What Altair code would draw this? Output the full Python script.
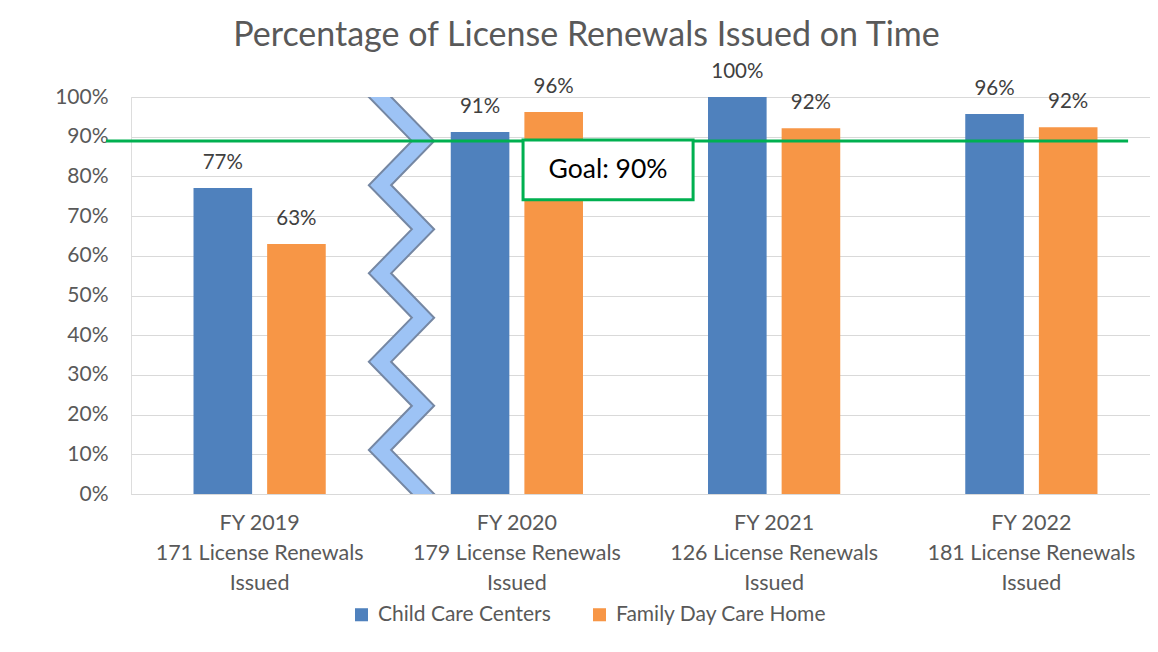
import altair as alt
import pandas as pd

FONT = "Lato"

# ---- data ----
years = [
    "FY 2019|171 License Renewals|Issued",
    "FY 2020|179 License Renewals|Issued",
    "FY 2021|126 License Renewals|Issued",
    "FY 2022|181 License Renewals|Issued",
]
series = ["Child Care Centers", "Family Day Care Home"]
child_care = [0.771, 0.912, 1.0, 0.957]
family_home = [0.63, 0.962, 0.921, 0.924]
colors = ["#4F81BD", "#F79646"]
y_ticks = [0, 0.1, 0.2, 0.3, 0.4, 0.5, 0.6, 0.7, 0.8, 0.9, 1.0]

# goal annotation (x in group units 0..4)
goal_value = 0.889
goal_line_x = [-0.097, 3.876]
goal_box_x = [1.524, 2.185]
goal_box_y = [0.741, 0.892]
goal_label = "Goal: 90%"

# axis-break zigzag between FY 2019 and FY 2020 (x in group units)
zig_x = [1.135, 0.968, 1.135, 0.968, 1.135, 0.968, 1.135, 0.968, 1.135, 0.968, 1.135, 0.968]
zig_y = [1.111, 1.0, 0.889, 0.778, 0.667, 0.556, 0.444, 0.333, 0.222, 0.111, 0.0, -0.111]

# ---- tables ----
bars = pd.DataFrame({
    "year": years * 2,
    "series": [s for s in series for _ in years],
    "value": child_care + family_home,
})
zig = pd.DataFrame({"i": list(range(len(zig_x))), "zx": zig_x, "zy": zig_y})
goal_line = pd.DataFrame({"x1": [goal_line_x[0]], "x2": [goal_line_x[1]], "y": [goal_value]})
goal_box = pd.DataFrame({
    "x1": [goal_box_x[0]], "x2": [goal_box_x[1]],
    "y1": [goal_box_y[0]], "y2": [goal_box_y[1]],
    "xc": [(goal_box_x[0] + goal_box_x[1]) / 2],
    "yc": [(goal_box_y[0] + goal_box_y[1]) / 2],
    "t": [goal_label],
})

PLOT_W = 1019      # visible plot width
GROUP_SPAN = 1029  # the four category groups run slightly past the right edge

yscale = alt.Scale(domain=[0, 1], nice=False, zero=False)
qx = alt.Scale(domain=[0, 4], nice=False, zero=False, range=[0, GROUP_SPAN])
band = alt.Scale(paddingInner=0, paddingOuter=0, range=[0, GROUP_SPAN])

y_axis = alt.Axis(
    format=".0%", values=y_ticks, grid=True, gridColor="#D9D9D9", gridWidth=1,
    domain=False, ticks=False, labelPadding=23, labelFontSize=21,
    labelColor="#595959", labelFont=FONT, labelOverlap=False,
)


def yenc(field):
    return alt.Y(field, scale=yscale, title=None, axis=y_axis)


x_enc = alt.X(
    "year:N", sort=years, title=None, scale=band,
    axis=alt.Axis(
        labelExpr="split(datum.label, '|')", labelAngle=0, ticks=False,
        domainColor="#D9D9D9", domainWidth=1, labelFontSize=21.5, labelColor="#595959",
        labelFont=FONT, labelLineHeight=30, labelPadding=18, labelBaseline="top",
        labelLimit=0,
    ),
)
xoff = alt.XOffset("series:N", sort=series, scale=alt.Scale(paddingInner=0.204, paddingOuter=0.849))

bar_layer = alt.Chart(bars).mark_bar().encode(
    x=x_enc,
    xOffset=xoff,
    y=yenc("value:Q"),
    color=alt.Color(
        "series:N", sort=series, scale=alt.Scale(domain=series, range=colors),
        legend=alt.Legend(
            title=None, orient="none", legendX=220, legendY=507, direction="horizontal",
            symbolType="square", symbolSize=170, symbolStrokeWidth=0,
            labelFontSize=21, labelColor="#595959", labelFont=FONT, labelLimit=0,
            columnPadding=38, labelOffset=6,
        ),
    ),
)

label_layer = alt.Chart(bars).mark_text(
    dy=-25, baseline="middle", fontSize=20.5, color="#404040", font=FONT
).encode(
    x=alt.X("year:N", sort=years, scale=band, axis=None),
    xOffset=xoff,
    y=yenc("value:Q"),
    text=alt.Text("value:Q", format=".0%"),
)

zig_outer = alt.Chart(zig).mark_line(
    clip=True, strokeWidth=18, color="#7587A3", strokeJoin="miter", strokeMiterLimit=10
).encode(
    x=alt.X("zx:Q", scale=qx, axis=None),
    y=yenc("zy:Q"),
    order="i:O",
)
zig_inner = alt.Chart(zig).mark_line(
    clip=True, strokeWidth=14, color="#9DC3F5", strokeJoin="miter", strokeMiterLimit=10
).encode(
    x=alt.X("zx:Q", scale=qx, axis=None),
    y=yenc("zy:Q"),
    order="i:O",
)

goal_rule = alt.Chart(goal_line).mark_rule(color="#00B050", strokeWidth=3).encode(
    x=alt.X("x1:Q", scale=qx, axis=None),
    x2="x2:Q",
    y=yenc("y:Q"),
)
goal_rect = alt.Chart(goal_box).mark_rect(fill="white", stroke="#00B050", strokeWidth=3).encode(
    x=alt.X("x1:Q", scale=qx, axis=None),
    x2="x2:Q",
    y=yenc("y1:Q"),
    y2="y2:Q",
)
goal_text = alt.Chart(goal_box).mark_text(fontSize=26.5, color="#000000", font=FONT).encode(
    x=alt.X("xc:Q", scale=qx, axis=None),
    y=yenc("yc:Q"),
    text="t:N",
)

chart = alt.layer(
    bar_layer, label_layer, zig_outer, zig_inner, goal_rule, goal_rect, goal_text
).resolve_scale(x="independent").resolve_axis(x="independent").properties(
    width=PLOT_W,
    height=397,
    autosize=alt.AutoSizeParams(type="none"),
    padding={"left": 123, "top": 89, "right": 0, "bottom": 148},
    title=alt.Title(
        "Percentage of License Renewals Issued on Time",
        fontSize=34, color="#595959", font=FONT, fontWeight="normal",
        anchor="middle", frame="group", baseline="alphabetic", offset=-18, dx=-54,
    ),
).configure_view(stroke=None).configure(background="white")

chart.save("out.html", embed_options={"renderer": "svg", "actions": False})
